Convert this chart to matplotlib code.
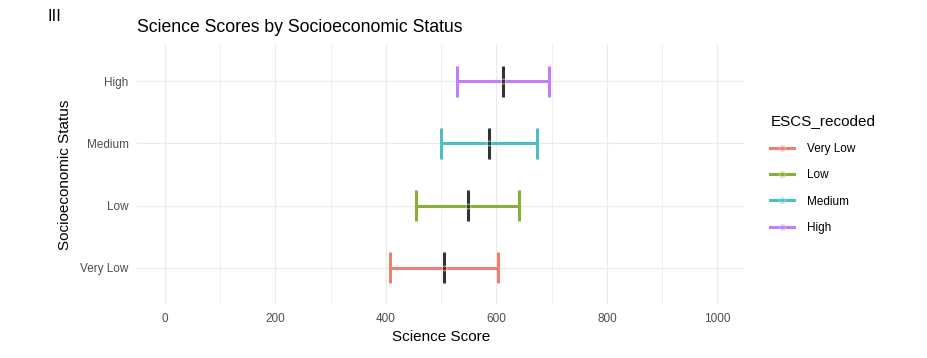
import matplotlib.pyplot as plt
import matplotlib.colors as mcolors
import numpy as np
from matplotlib.lines import Line2D

plt.rcParams['font.family'] = ['Liberation Sans', 'DejaVu Sans']

# data
groups = ["Very Low", "Low", "Medium", "High"]
means = [505, 548, 586, 612]
lower = [407, 454, 500, 528]
upper = [603, 641, 673, 696]
colors = ["#EF7E73", "#8BAE38", "#4DBEC1", "#BF7FF5"]
xticks = [0, 200, 400, 600, 800, 1000]


def tint(c, amt=0.45):
    rgb = np.array(mcolors.to_rgb(c))
    return tuple(rgb + (1 - rgb) * amt)


fig = plt.figure(figsize=(9.27, 3.58), dpi=100)
ax = fig.add_axes([0.1478, 0.148, 0.656, 0.729])

ypos = list(range(1, len(groups) + 1))
for y, m, lo, hi, c in zip(ypos, means, lower, upper, colors):
    kw = dict(color=c, lw=2.2, solid_capstyle='butt', zorder=3)
    ax.plot([lo, hi], [y, y], **kw)
    ax.plot([lo, lo], [y - 0.25, y + 0.25], **kw)
    ax.plot([hi, hi], [y - 0.25, y + 0.25], **kw)
    ax.plot([m, m], [y - 0.25, y + 0.25], color="#333333", lw=2.2, solid_capstyle='butt', zorder=4)
    ax.plot([m], [y], marker='o', ms=3.5, mfc='none', mec=tint(c), mew=0.6, zorder=5)

ax.set_xlim(-50, 1050)
ax.set_ylim(0.4, 4.6)
ax.set_xticks(xticks)
ax.set_xticks([100, 300, 500, 700, 900], minor=True)
ax.set_yticks(ypos)
ax.set_yticklabels(groups)
ax.tick_params(axis='both', which='both', length=0, labelsize=8.5, labelcolor="#4D4D4D", pad=6)
ax.grid(True, which='major', color="#EBEBEB", lw=0.9)
ax.grid(True, which='minor', axis='x', color="#EBEBEB", lw=0.5)
ax.set_axisbelow(True)
for s in ax.spines.values():
    s.set_visible(False)

ax.set_xlabel("Science Score", fontsize=11, labelpad=3)
ax.set_ylabel("Socioeconomic Status", fontsize=11, labelpad=6)
ax.set_title("Science Scores by Socioeconomic Status", fontsize=12.7, loc='left', pad=9, x=0.0)

handles = [Line2D([0], [0], color=c, lw=2.2, marker='o', ms=4,
                  mfc='none', mec=tint(c), mew=0.7) for c in colors]
leg = fig.legend(handles, groups, title="ESCS_recoded", loc='upper left',
                 bbox_to_anchor=(0.826, 0.695), frameon=False, fontsize=8.5,
                 title_fontsize=11, handlelength=2.0, labelspacing=1.2,
                 handletextpad=1.1, borderaxespad=0)
leg._legend_box.align = "left"
leg._legend_box.sep = 11

fig.text(0.051, 0.955, "III", fontsize=12, va='center')

fig.savefig("out.png", dpi=100)
